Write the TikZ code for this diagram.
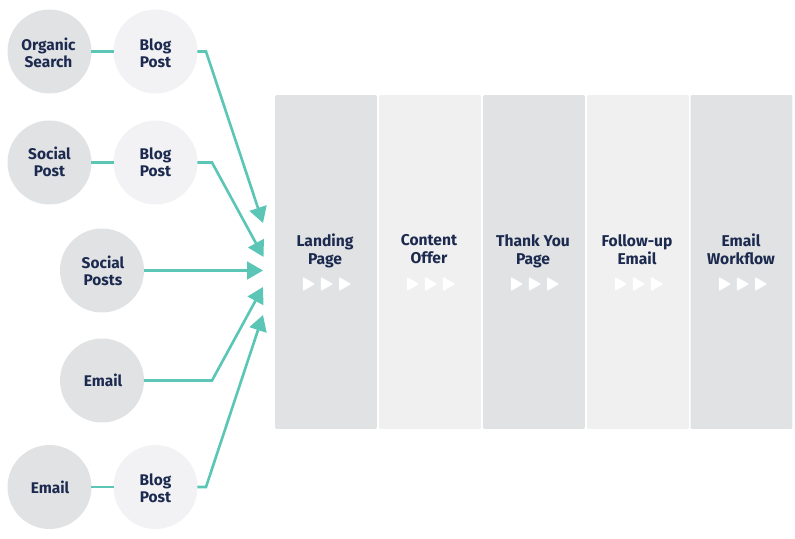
\documentclass[tikz,border=0pt]{standalone}
\usepackage{fontspec}
\setmainfont{Fira Sans}
\usetikzlibrary{arrows.meta, shapes.geometric}
\definecolor{teal}{HTML}{5CC6B6}
\definecolor{navy}{HTML}{1B2A4E}
\definecolor{darkgrey}{HTML}{E1E2E4}
\definecolor{lightgrey}{HTML}{F2F2F4}
\definecolor{palegrey}{HTML}{F0F0F0}
\tikzset{
    source/.style={circle, fill=darkgrey, minimum size=1.68cm, inner sep=0pt, outer sep=0pt},
    blog/.style={source, fill=lightgrey},
    sourcetext/.style={text=navy, align=center, inner sep=0pt, font=\fontsize{8.8}{9.7}\selectfont\bfseries, execute at begin node=\strut, execute at end node=\strut},
    stage/.style={rectangle, rounded corners=0.8pt, minimum width=2.04cm, minimum height=6.68cm, inner sep=0pt, outer sep=0pt, fill=darkgrey},
    stagepale/.style={stage, fill=palegrey},
    stagetext/.style={sourcetext, font=\fontsize{8.9}{10.2}\selectfont\bfseries},
    playmark/.style={isosceles triangle, isosceles triangle apex angle=60, fill=white, draw=white, line join=round, line width=0.8pt, inner sep=0pt, minimum height=0.2cm, minimum width=0.22cm},
    link/.style={draw=teal, line width=1.5pt},
    flow/.style={link, -{Triangle[length=9pt, width=10pt]}}
}

\begin{document}
\begin{tikzpicture}[x=0.02cm, y=-0.02cm]
            \useasboundingbox (0, 0) rectangle (795, 538);

            \node[stage] (landing) at (326, 262) {};
            \node[stagepale] (content) at (430, 262) {};
            \node[stage] (thanks) at (534, 262) {};
            \node[stagepale] (followup) at (638, 262) {};
            \node[stage] (workflow) at (741.5, 262) {};

            \node[stagetext] (landingtext) at (325, 252) {Landing\\Page};
            \node[stagetext] (contenttext) at (429, 252) {Content\\Offer};
            \node[stagetext] (thankstext) at (533, 252) {Thank You\\Page};
            \node[stagetext] (followuptext) at (637, 252) {Follow-up\\Email};
            \node[stagetext] (workflowtext) at (741, 252) {Email\\Workflow};

            \node[playmark] (landinga) at (307, 284) {};
            \node[playmark] (landingb) at (325, 284) {};
            \node[playmark] (landingc) at (343, 284) {};
            \node[playmark] (contenta) at (411, 284) {};
            \node[playmark] (contentb) at (429, 284) {};
            \node[playmark] (contentc) at (447, 284) {};
            \node[playmark] (thanksa) at (515, 284) {};
            \node[playmark] (thanksb) at (533, 284) {};
            \node[playmark] (thanksc) at (551, 284) {};
            \node[playmark] (followupa) at (619, 284) {};
            \node[playmark] (followupb) at (637, 284) {};
            \node[playmark] (followupc) at (655, 284) {};
            \node[playmark] (workflowa) at (723, 284) {};
            \node[playmark] (workflowb) at (741, 284) {};
            \node[playmark] (workflowc) at (759, 284) {};

            \node[source] (organic) at (49.5, 51.5) {};
            \node[blog] (bloga) at (155.5, 51.5) {};
            \node[source] (socialpost) at (49.5, 162.5) {};
            \node[blog] (blogb) at (155.5, 162.5) {};
            \node[source] (socialposts) at (102, 270.5) {};
            \node[source] (emaila) at (102, 380.5) {};
            \node[source] (emailb) at (49.5, 487) {};
            \node[blog] (blogc) at (155.5, 487) {};

            \node[sourcetext] (organictext) at (48.5, 55.5) {Organic\\Search};
            \node[sourcetext] (blogatext) at (155.5, 55.5) {Blog\\Post};
            \node[sourcetext] (socialposttext) at (49.5, 164.5) {Social\\Post};
            \node[sourcetext] (blogbtext) at (155.5, 164.5) {Blog\\Post};
            \node[sourcetext] (socialpoststext) at (103, 273.5) {Social\\Posts};
            \node[sourcetext] (emailatext) at (103, 383) {Email};
            \node[sourcetext] (emailbtext) at (50, 490) {Email};
            \node[sourcetext] (blogctext) at (155.5, 490.5) {Blog\\Post};

            \coordinate (benda) at (206, 51.5);
            \coordinate (bendb) at (212, 162.5);
            \coordinate (bendc) at (212, 380.5);
            \coordinate (bendd) at (206, 487);
            \coordinate (enda) at (263, 223);
            \coordinate (endb) at (263.5, 257);
            \coordinate (endc) at (263, 270.5);
            \coordinate (endd) at (263, 287);
            \coordinate (ende) at (263, 315);

            \draw[link] (organic) -- (bloga);
            \draw[link] (socialpost) -- (blogb);
            \draw[link] (emailb) -- (blogc);
            \draw[flow] (bloga.east) -- (benda) -- (enda);
            \draw[flow] (blogb.east) -- (bendb) -- (endb);
            \draw[flow] (socialposts.east) -- (endc);
            \draw[flow] (emaila.east) -- (bendc) -- (endd);
            \draw[flow] (blogc.east) -- (bendd) -- (ende);
        \end{tikzpicture}
\end{document}
